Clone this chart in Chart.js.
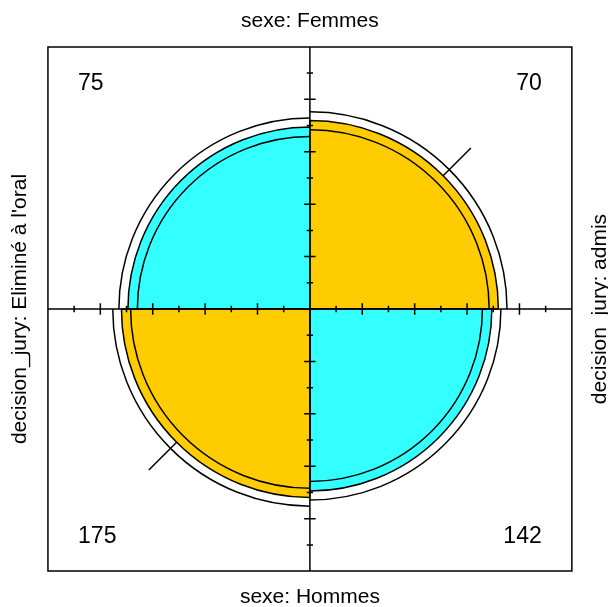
<!DOCTYPE html>
<html>
<head>
<meta charset="utf-8">
<script src="https://cdn.jsdelivr.net/npm/chart.js@4.4.1/dist/chart.umd.min.js"></script>
<style>
  html, body { margin: 0; padding: 0; background: #fff; }
  #wrap { width: 608px; height: 607px; }
</style>
</head>
<body>
<div id="wrap"><canvas id="chart"></canvas></div>
<script>
// table: sexe (top/bottom) x decision_jury (left/right)
const rowVar = "sexe";
const rowLevels = ["Femmes", "Hommes"];
const colVar = "decision_jury";
const colLevels = ["Eliminé à l'oral", "admis"];
const femmes = [75, 70];
const hommes = [175, 142];

const confLevel = 0.95;
const assocTick = 0.15;
const majorTicks = [-0.8, -0.6, -0.4, -0.2, 0.2, 0.4, 0.6, 0.8];
const minorTicks = [-0.9, -0.7, -0.5, -0.3, -0.1, 0.1, 0.3, 0.5, 0.7, 0.9];
const colors = ["#33FFFF", "#FFCC00"];

// view window in plot units (plot box is -1..1)
const xRange = [-1.183, 1.138];
const yRange = [-1.137, 1.179];

// fourfold stats (margins standardized on both dims)
const a = femmes[0], b = femmes[1], c = hommes[0], d = hommes[1];
const oddsRatio = (a * d) / (b * c);
const se = Math.sqrt(1 / a + 1 / b + 1 / c + 1 / d);
const z = 1.959964; // qnorm(0.975)

function stdRadii(theta) {
  const s = Math.sqrt(theta);
  const u = s / (1 + s);
  return { diag: Math.sqrt(u), off: Math.sqrt(1 - u) };
}
const fit = stdRadii(oddsRatio);
const lower = stdRadii(oddsRatio * Math.exp(-z * se));
const upper = stdRadii(oddsRatio * Math.exp(z * se));

const quads = [
  { n: a, diag: true,  from: Math.PI,       to: 1.5 * Math.PI, sx: -1, sy: 1 },
  { n: b, diag: false, from: 1.5 * Math.PI, to: 2 * Math.PI,   sx: 1,  sy: 1 },
  { n: c, diag: false, from: 0.5 * Math.PI, to: Math.PI,       sx: -1, sy: -1 },
  { n: d, diag: true,  from: 0,             to: 0.5 * Math.PI, sx: 1,  sy: -1 }
];

const fourfold = {
  id: "fourfold",
  afterDraw(chart) {
    const { ctx, scales } = chart;
    const X = v => scales.x.getPixelForValue(v);
    const Y = v => scales.y.getPixelForValue(v);
    const R = r => X(r) - X(0);
    const cx = X(0), cy = Y(0);

    ctx.save();
    ctx.strokeStyle = "#000";
    ctx.lineWidth = 1.5;

    // quarter circles
    quads.forEach(q => {
      const r = q.diag ? fit.diag : fit.off;
      ctx.beginPath();
      ctx.moveTo(cx, cy);
      ctx.arc(cx, cy, R(r), q.from, q.to);
      ctx.closePath();
      ctx.fillStyle = q.diag ? colors[0] : colors[1];
      ctx.fill();
      ctx.stroke();
    });

    // confidence rings
    [lower, upper].forEach(ring => {
      quads.forEach(q => {
        const r = q.diag ? ring.diag : ring.off;
        ctx.beginPath();
        ctx.arc(cx, cy, R(r), q.from, q.to);
        ctx.stroke();
      });
    });

    // box and axes
    ctx.beginPath();
    ctx.rect(X(-1), Y(1), X(1) - X(-1), Y(-1) - Y(1));
    ctx.moveTo(X(-1), cy); ctx.lineTo(X(1), cy);
    ctx.moveTo(cx, Y(-1)); ctx.lineTo(cx, Y(1));
    majorTicks.forEach(t => {
      ctx.moveTo(X(t), Y(0.022)); ctx.lineTo(X(t), Y(-0.022));
      ctx.moveTo(X(-0.022), Y(t)); ctx.lineTo(X(0.022), Y(t));
    });
    minorTicks.forEach(t => {
      ctx.moveTo(X(t), Y(0.012)); ctx.lineTo(X(t), Y(-0.012));
      ctx.moveTo(X(-0.012), Y(t)); ctx.lineTo(X(0.012), Y(t));
    });
    ctx.stroke();

    // association ticks on the larger quadrants
    quads.filter(q => (oddsRatio > 1) === q.diag).forEach(q => {
      const r = q.diag ? fit.diag : fit.off;
      const ang = (q.from + q.to) / 2;
      ctx.beginPath();
      ctx.moveTo(cx + R(r) * Math.cos(ang), cy + R(r) * Math.sin(ang));
      ctx.lineTo(cx + R(r + assocTick) * Math.cos(ang), cy + R(r + assocTick) * Math.sin(ang));
      ctx.stroke();
    });

    // labels
    ctx.fillStyle = "#000";
    ctx.font = '21px "Liberation Sans", Arial, sans-serif';
    ctx.textAlign = "center";
    ctx.textBaseline = "middle";
    ctx.fillText(rowVar + ": " + rowLevels[0], cx, Y(1.1));
    ctx.fillText(rowVar + ": " + rowLevels[1], cx, Y(-1.1));
    [[-1.105, colLevels[0]], [1.108, colLevels[1]]].forEach(([xv, lab]) => {
      ctx.save();
      ctx.translate(X(xv), cy);
      ctx.rotate(-Math.PI / 2);
      ctx.fillText(colVar + ": " + lab, 0, 0);
      ctx.restore();
    });

    // counts
    ctx.font = '23px "Liberation Sans", Arial, sans-serif';
    quads.forEach(q => {
      ctx.textAlign = q.sx < 0 ? "left" : "right";
      ctx.fillText(String(q.n), X(q.sx * 0.885), Y(q.sy > 0 ? 0.858 : -0.87));
    });
    ctx.restore();
  }
};

new Chart(document.getElementById("chart"), {
  type: "scatter",
  data: { datasets: [{ data: [], pointRadius: 0 }] },
  options: {
    responsive: true,
    maintainAspectRatio: false,
    animation: false,
    layout: { padding: 0 },
    scales: {
      x: { type: "linear", min: xRange[0], max: xRange[1], display: false },
      y: { type: "linear", min: yRange[0], max: yRange[1], display: false }
    },
    plugins: { legend: { display: false }, tooltip: { enabled: false } }
  },
  plugins: [fourfold]
});
</script>
</body>
</html>
